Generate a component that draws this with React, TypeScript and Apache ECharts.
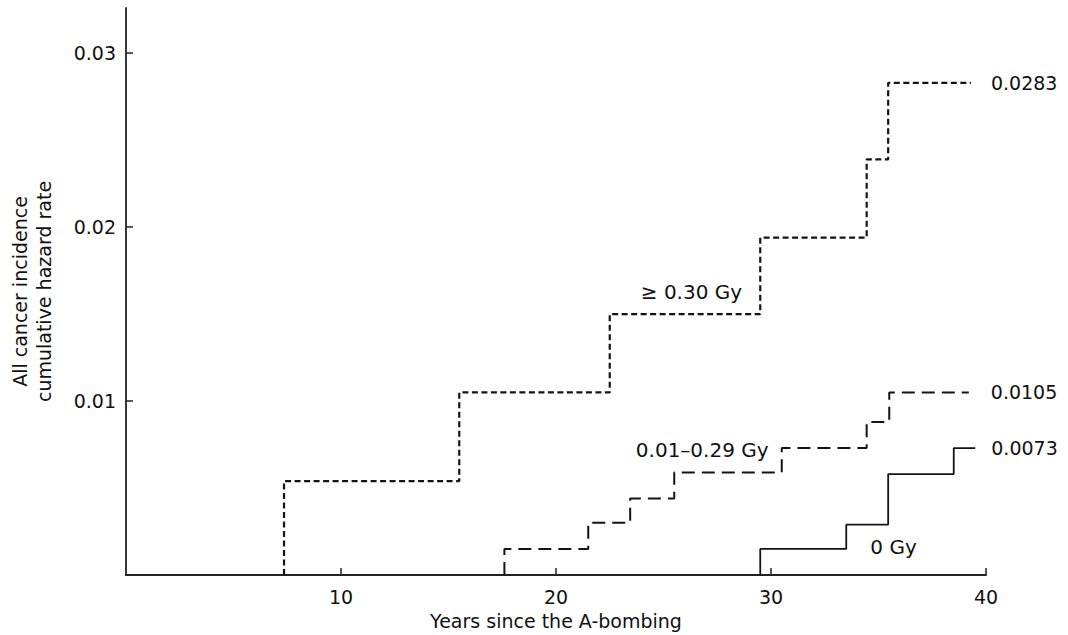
import React, { useEffect, useRef } from "react";
import * as echarts from "echarts";

// ---- data ----
const xTicks = [10, 20, 30, 40];
const yTicks = [0.01, 0.02, 0.03];

const highName = "≥ 0.30 Gy";
const highTimes = [7.35, 15.5, 22.5, 29.5, 34.45, 35.45];
const highLevels = [0.0054, 0.0105, 0.015, 0.0194, 0.0239, 0.0283];
const highEnd = 39.3;
const highFinal = "0.0283";

const midName = "0.01–0.29 Gy";
const midTimes = [17.6, 21.5, 23.45, 25.5, 30.5, 34.45, 35.5];
const midLevels = [0.0015, 0.003, 0.0044, 0.0059, 0.0073, 0.0088, 0.0105];
const midEnd = 39.2;
const midFinal = "0.0105";

const lowName = "0 Gy";
const lowTimes = [29.5, 33.5, 35.45, 38.5];
const lowLevels = [0.0015, 0.0029, 0.0058, 0.0073];
const lowEnd = 39.5;
const lowFinal = "0.0073";

// label anchors (data coordinates)
const annotations = [
  { name: highName, value: [26.3, 0.0163] },
  { name: midName, value: [26.8, 0.0072] },
  { name: lowName, value: [35.7, 0.0016] },
];

const FONT = "'DejaVu Sans', sans-serif";
const INK = "#111111";

function stepData(times: number[], levels: number[], end: number) {
  const d: number[][] = [[times[0], 0]];
  times.forEach((t, i) => d.push([t, levels[i]]));
  d.push([end, levels[levels.length - 1]]);
  return d;
}

export default function App() {
  const ref = useRef<HTMLDivElement>(null);
  useEffect(() => {
    if (!ref.current) return;
    const chart = echarts.init(ref.current, undefined, { renderer: "svg" });
    const lineSeries = (
      name: string,
      data: number[][],
      width: number,
      type: any,
      finalText: string,
      dist: number
    ) => ({
      type: "line",
      name,
      data,
      step: "end",
      symbol: "none",
      silent: true,
      lineStyle: { color: "#141414", width, type },
      endLabel: {
        show: true,
        formatter: finalText,
        distance: dist,
        color: INK,
        fontSize: 19,
        fontFamily: FONT,
      },
    });
    chart.setOption({
      animation: false,
      backgroundColor: "#ffffff",
      grid: { left: 124.5, right: 82, top: 8, bottom: 60, containLabel: false },
      xAxis: {
        type: "value",
        min: 0,
        max: 40,
        interval: 10,
        name: "Years since the A-bombing",
        nameLocation: "middle",
        nameGap: 36,
        nameTextStyle: { fontSize: 19, color: INK, fontFamily: FONT },
        axisLine: { show: true, onZero: false, lineStyle: { color: "#222", width: 1.8 } },
        axisTick: { show: true, inside: true, length: 7, customValues: xTicks, lineStyle: { color: "#222", width: 1.5 } },
        axisLabel: { customValues: xTicks, margin: 12, fontSize: 19, color: INK, fontFamily: FONT },
        splitLine: { show: false },
      },
      yAxis: {
        type: "value",
        min: 0,
        max: 0.0326,
        interval: 0.01,
        name: "All cancer incidence\ncumulative hazard rate",
        nameLocation: "middle",
        nameRotate: 90,
        nameGap: 70,
        nameTextStyle: { fontSize: 19, color: INK, fontFamily: FONT, lineHeight: 24 },
        axisLine: { show: true, onZero: false, lineStyle: { color: "#222", width: 1.8 } },
        axisTick: { show: true, inside: true, length: 7, customValues: yTicks, lineStyle: { color: "#222", width: 1.5 } },
        axisLabel: {
          customValues: yTicks,
          margin: 10,
          fontSize: 19,
          color: INK,
          fontFamily: FONT,
          formatter: (v: number) => v.toFixed(2),
        },
        splitLine: { show: false },
      },
      series: [
        lineSeries(highName, stepData(highTimes, highLevels, highEnd), 2.2, [6, 3.5], highFinal, 20),
        lineSeries(midName, stepData(midTimes, midLevels, midEnd), 2, [13, 7], midFinal, 22),
        lineSeries(lowName, stepData(lowTimes, lowLevels, lowEnd), 1.8, "solid", lowFinal, 16),
        {
          type: "scatter",
          data: annotations,
          symbolSize: 0,
          silent: true,
          itemStyle: { opacity: 1 },
          label: {
            show: true,
            formatter: (p: any) => p.name,
            position: [0, 0],
            align: "center",
            verticalAlign: "middle",
            fontSize: 20,
            color: INK,
            opacity: 1,
            fontFamily: FONT,
          },
        },
      ],
    });
    return () => chart.dispose();
  }, []);
  return (
    <div
      ref={ref}
      style={{ position: "absolute", left: 0, top: 0, width: 1068, height: 635, background: "#fff" }}
    />
  );
}
